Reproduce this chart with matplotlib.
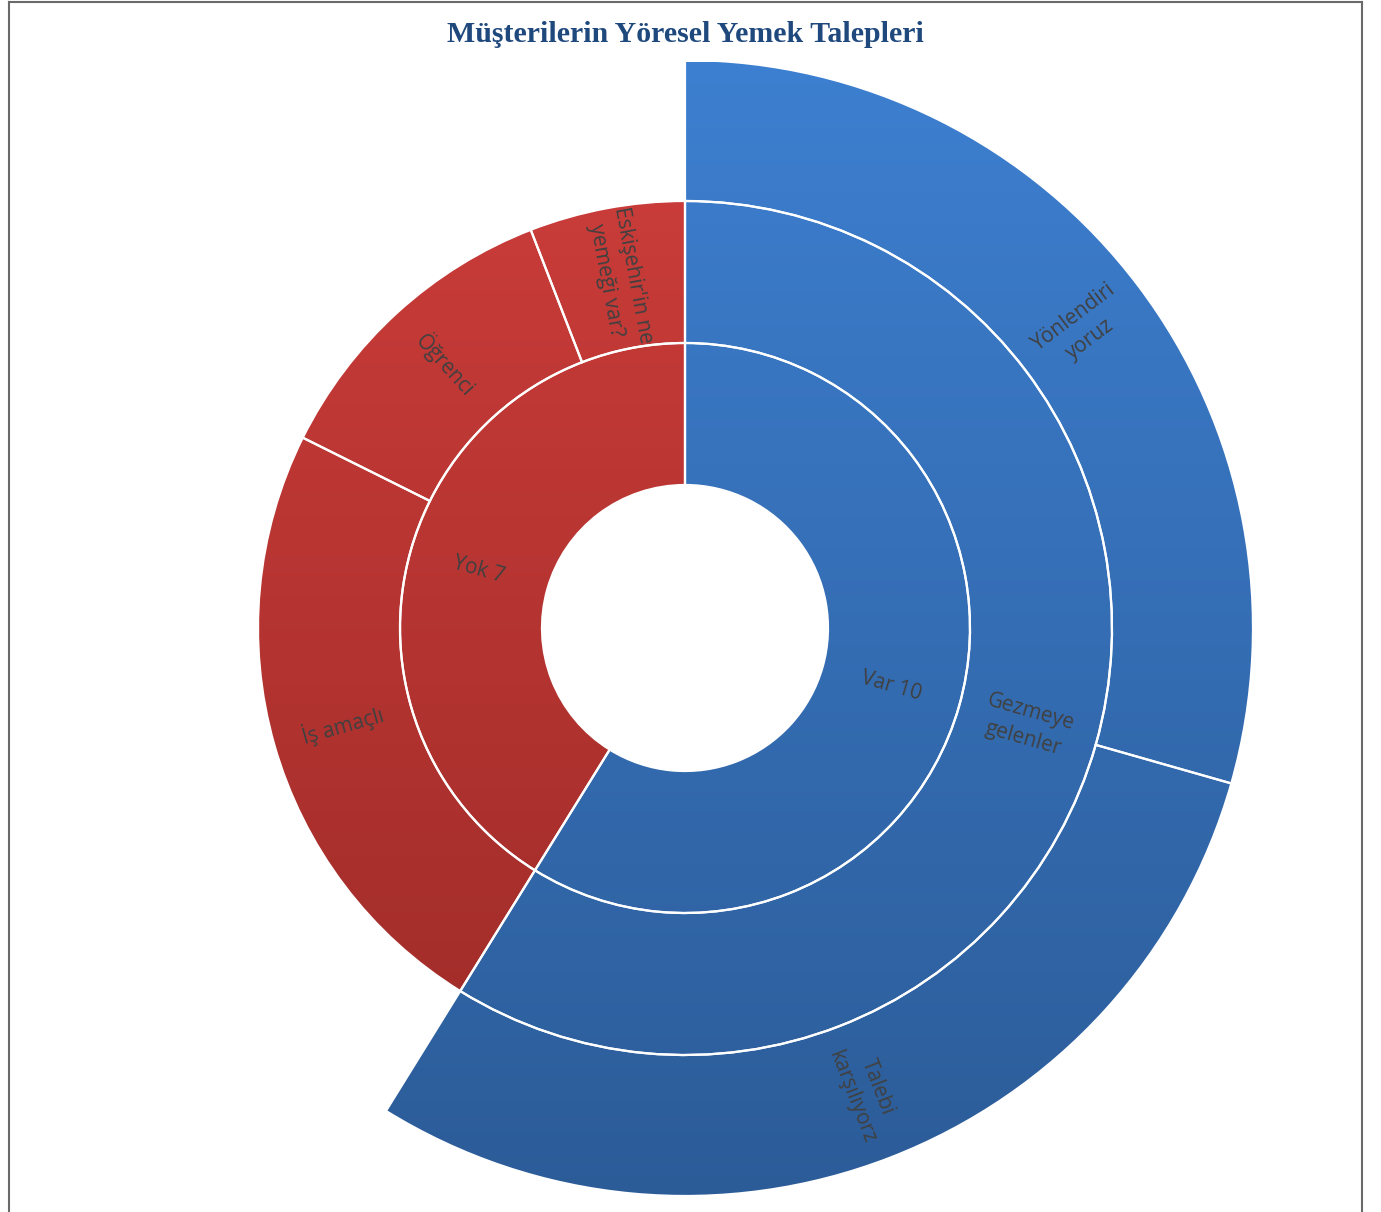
import numpy as np
import matplotlib
matplotlib.use("Agg")
import matplotlib.pyplot as plt
from matplotlib.lines import Line2D
from matplotlib.colors import to_rgb

# ---- data ----
inner_labels = ["Var 10", "Yok 7"]
inner_values = [10, 7]
middle_labels = ["Gezmeye\ngelenler", "İş amaçlı", "Öğrenci", "Eskişehir'in ne\nyemeği var?"]
middle_values = [10, 4, 2, 1]
middle_groups = [0, 1, 1, 1]
outer_labels = ["Yönlendiri\nyoruz", "Talebi\nkarşılıyorz"]
outer_values = [5, 5]
outer_groups = [0, 0]
title = "Müşterilerin Yöresel Yemek Talepleri"

# ---- style ----
grad = {0: ("#3D7FD0", "#2C5C98"), 1: ("#CF3E3B", "#9A2A27")}
text_color = "#404040"
label_font = ["Open Sans", "DejaVu Sans"]

fig = plt.figure(figsize=(13.81, 12.12), dpi=100)
ax = fig.add_axes([0, 0, 1, 1])

total = sum(inner_values)
R = [143, 285, 427, 568]

rings = []
w_in, _ = ax.pie(inner_values, radius=R[1], startangle=90, counterclock=False,
                 wedgeprops=dict(width=R[1] - R[0]))
rings.append((w_in, inner_labels, [0, 1], (R[0] + R[1]) / 2))
w_mid, _ = ax.pie(middle_values, radius=R[2], startangle=90, counterclock=False,
                  wedgeprops=dict(width=R[2] - R[1]))
rings.append((w_mid, middle_labels, middle_groups, (R[1] + R[2]) / 2))
w_out, _ = ax.pie([v / total for v in outer_values], normalize=False, radius=R[3],
                  startangle=90, counterclock=False,
                  wedgeprops=dict(width=R[3] - R[2]))
rings.append((w_out, outer_labels, outer_groups, (R[2] + R[3]) / 2))

y_top, y_bot = 566, -570
def grad_img(c1, c2):
    a = np.array(to_rgb(c1)); b = np.array(to_rgb(c2))
    t = np.linspace(0, 1, 512)[:, None]
    return (a * (1 - t) + b * t).reshape(512, 1, 3)

for wedges, labels, groups, rmid in rings:
    for w, lab, g in zip(wedges, labels, groups):
        c1, c2 = grad[g]
        w.set_facecolor(c1)
        w.set_edgecolor("white")
        w.set_linewidth(1.6)
        im = ax.imshow(grad_img(c1, c2), extent=(-600, 600, y_bot, y_top),
                       origin="upper", aspect="auto", zorder=2, interpolation="bilinear")
        im.set_clip_path(w)
        w.set_facecolor("none")
        w.set_zorder(3)
        mid = (w.theta1 + w.theta2) / 2
        rad = np.deg2rad(mid)
        rot = mid % 360
        if 90 < rot < 270:
            rot -= 180
        ax.text(rmid * np.cos(rad), rmid * np.sin(rad), lab, rotation=rot,
                rotation_mode="anchor", ha="center", va="center",
                fontsize=15, color=text_color, family=label_font,
                linespacing=1.4, zorder=4)

ax.set_xlim(-685, 1381 - 685)
ax.set_ylim(-(1212 - 628), 628)
ax.set_aspect("auto")
ax.axis("off")

fig.text(685 / 1381, 1 - 34 / 1212, title, ha="center", va="center",
         fontsize=21.5, fontweight="bold", color="#1F497D",
         family=["Liberation Serif", "DejaVu Serif"])

# frame
bc = "#6A6A6A"
fig.add_artist(Line2D([8.5 / 1381, 8.5 / 1381], [0, 1 - 1.5 / 1212], color=bc, lw=1.5, transform=fig.transFigure))
fig.add_artist(Line2D([1362 / 1381, 1362 / 1381], [0, 1 - 1.5 / 1212], color=bc, lw=1.5, transform=fig.transFigure))
fig.add_artist(Line2D([8.5 / 1381, 1362 / 1381], [1 - 1.5 / 1212, 1 - 1.5 / 1212], color=bc, lw=1.5, transform=fig.transFigure))

fig.savefig("out.png", dpi=100, facecolor="white")
